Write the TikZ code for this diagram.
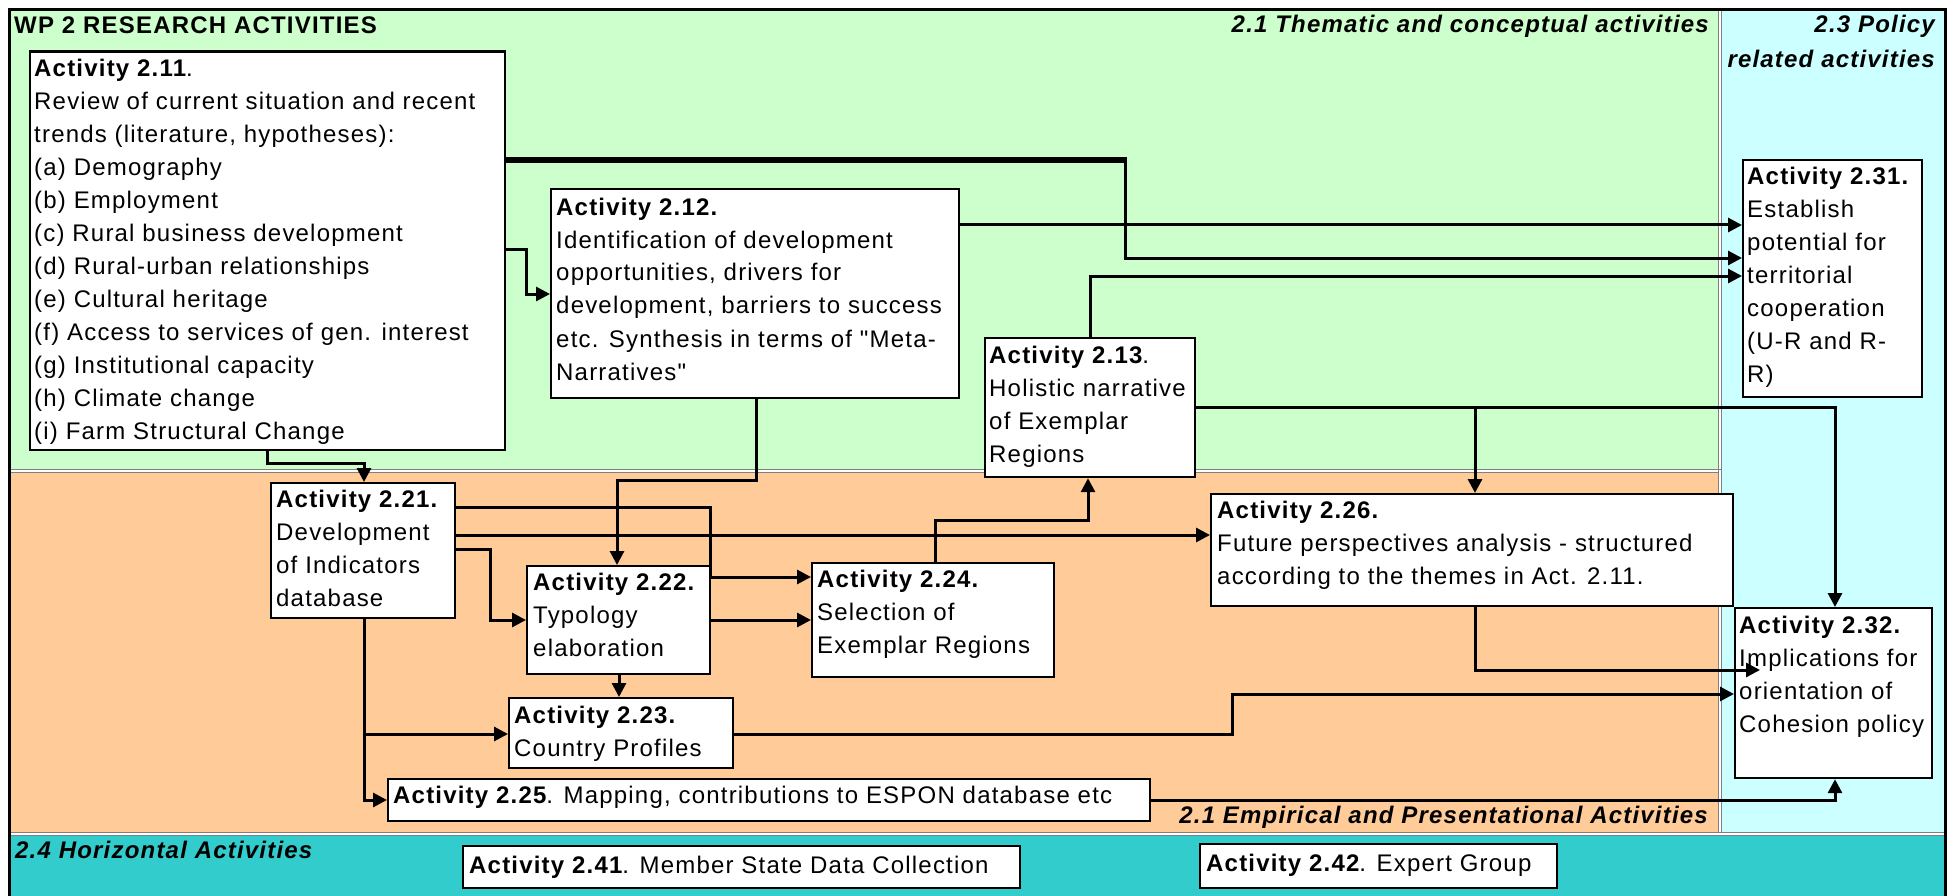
\documentclass[tikz,border=0pt]{standalone}
\usepackage{fontspec}
\setmainfont{Liberation Sans}[LetterSpace=5, Ligatures=TeXOff]
\usetikzlibrary{arrows.meta}
\definecolor{greenbg}{HTML}{CCFFCC}
\definecolor{orangebg}{HTML}{FFCC99}
\definecolor{cyanbg}{HTML}{CCFFFF}
\definecolor{tealbg}{HTML}{33CCCC}
\definecolor{sepgray}{HTML}{808080}
\newcommand{\ml}[1]{\begin{tabular}[t]{@{}l@{}}#1\end{tabular}}
\begin{document}
\begin{tikzpicture}[x=1pt,y=-1pt,
  box/.style={draw=black, fill=white, line width=2.2pt, inner sep=0pt, anchor=north west},
  txt/.style={inner sep=0pt, anchor=base west, font=\fontsize{24}{33}\selectfont},
  ttl/.style={inner sep=0pt, font=\fontsize{24}{33}\selectfont\bfseries\itshape},
  ttlb/.style={inner sep=0pt, font=\fontsize{24}{33}\selectfont\bfseries},
  conn/.style={draw=black, line width=3pt},
  arr/.style={conn, -{Triangle[length=14pt,width=14pt]}},
  sep/.style={draw=sepgray, line width=1pt}]
\useasboundingbox (0,0) rectangle (1957,896);
\clip (0,0) rectangle (1957,896);
\fill[white] (0,0) rectangle (1957,896);
% regions
\fill[greenbg] (11.25,11.25) rectangle (1718,469);
\fill[orangebg] (11.25,472.5) rectangle (1718,832);
\fill[cyanbg] (1721,11.25) rectangle (1943.75,832);
\fill[tealbg] (11.25,836) rectangle (1943.75,896);
\draw[sep] (11,469.5) -- (1721,469.5);
\draw[sep] (11,472) -- (1718,472);
\draw[sep] (1718,11) -- (1718,833);
\draw[sep] (1721,11) -- (1721,833);
\draw[sep] (11,832.5) -- (1944,832.5);
\draw[sep] (11,835.5) -- (1944,835.5);
\draw[line width=3.5pt] (9.5,9.5) rectangle (1945.5,910);
% titles
\node[ttlb, anchor=base west] (twp) at (14,34) {WP 2 RESEARCH ACTIVITIES};
\node[ttl, anchor=base east] (t21a) at (1709,33) {2.1 Thematic and conceptual activities};
\node[ttl, anchor=base east] (t23a) at (1935,33) {2.3 Policy};
\node[ttl, anchor=base east] (t23b) at (1935,68) {related activities};
\node[ttl, anchor=base west] (t24) at (15,858) {2.4 Horizontal Activities};
\node[ttl, anchor=base east] (t21b) at (1708,823) {2.1 Empirical and Presentational Activities};
% boxes
\node[box, minimum width=475pt, minimum height=398.5pt] (a211) at (28.5,50.5) {};
\node[txt] (a211t) at (34,77) {\ml{\textbf{Activity 2.11}.\\Review of current situation and recent\\trends (literature, hypotheses):\\(a) Demography\\(b) Employment\\(c) Rural business development\\(d) Rural-urban relationships\\(e) Cultural heritage\\(f) Access to services of gen. interest\\(g) Institutional capacity\\(h) Climate change\\(i) Farm Structural Change}};
\node[box, minimum width=408pt, minimum height=209pt] (a212) at (550,188) {};
\node[txt] (a212t) at (556,215) {\ml{\textbf{Activity 2.12.}\\Identification of development\\opportunities, drivers for\\development, barriers to success\\etc. Synthesis in terms of "Meta-\\Narratives"}};
\node[box, minimum width=210pt, minimum height=139pt] (a213) at (984,337) {};
\node[txt] (a213t) at (989,363) {\ml{\textbf{Activity 2.13}.\\Holistic narrative\\of Exemplar\\Regions}};
\node[box, minimum width=184pt, minimum height=135pt] (a221) at (270,482) {};
\node[txt] (a221t) at (276,507) {\ml{\textbf{Activity 2.21.}\\Development\\of Indicators\\database}};
\node[box, minimum width=183pt, minimum height=108pt] (a222) at (526,565) {};
\node[txt] (a222t) at (533,590) {\ml{\textbf{Activity 2.22.}\\Typology\\elaboration}};
\node[box, minimum width=224pt, minimum height=70pt] (a223) at (508,697) {};
\node[txt] (a223t) at (514,723) {\ml{\textbf{Activity 2.23.}\\Country Profiles}};
\node[box, minimum width=242pt, minimum height=114pt] (a224) at (811,562) {};
\node[txt] (a224t) at (817,587) {\ml{\textbf{Activity 2.24.}\\Selection of\\Exemplar Regions}};
\node[box, minimum width=762pt, minimum height=42pt] (a225) at (387,778) {};
\node[txt] (a225t) at (393,803) {\textbf{Activity 2.25}. Mapping, contributions to ESPON database etc};
\node[box, minimum width=522pt, minimum height=112pt] (a226) at (1210,493) {};
\node[txt] (a226t) at (1217,518) {\ml{\textbf{Activity 2.26.}\\Future perspectives analysis - structured\\according to the themes in Act. 2.11.}};
\node[box, minimum width=179pt, minimum height=237pt] (a231) at (1742,159) {};
\node[txt] (a231t) at (1747,185) {\ml{\textbf{Activity 2.31.}\\Establish\\potential for\\territorial\\cooperation\\(U-R and R-\\R)}};
\node[box, minimum width=197pt, minimum height=170pt] (a232) at (1734,607) {};
\node[txt] (a232t) at (1739,633) {\ml{\textbf{Activity 2.32.}\\Implications for\\orientation of\\Cohesion policy}};
\node[box, minimum width=557pt, minimum height=42pt] (a241) at (462,845) {};
\node[txt] (a241t) at (469,873) {\textbf{Activity 2.41}. Member State Data Collection};
\node[box, minimum width=357pt, minimum height=44pt] (a242) at (1199,843) {};
\node[txt] (a242t) at (1206,871) {\textbf{Activity 2.42}. Expert Group};
% connectors
\coordinate (k1) at (1125,160);
\draw[conn, line width=5.5pt] (a211.east |- k1) -- ([xshift=1.5pt]k1);
\draw[arr] (k1) -- (1125,258) -- (a231.west |- 0,258);
\draw[arr] (a212.east |- 0,225) -- (a231.west |- 0,225);
\draw[arr] (a213.north -| 1090,0) -- (1090,276) -- (a231.west |- 0,276);
\draw[arr] (a211.east |- 0,249) -- (526,249) -- (526,294) -- (a212.west |- 0,294);
\draw[arr] (a211.south -| 267,0) -- (267,463) -- (364,463) -- (a221.north -| 364,0);
\draw[arr] (a212.south -| 756,0) -- (756,480) -- (617,480) -- (a222.north -| 617,0);
\draw[arr] (a221.east |- 0,507) -- (710,507) -- (710,577) -- (a224.west |- 0,577);
\draw[arr] (a221.east |- 0,535) -- (a226.west |- 0,535);
\draw[arr] (a221.east |- 0,549) -- (490,549) -- (490,620) -- (a222.west |- 0,620);
\draw[arr] (a222.east |- 0,620) -- (a224.west |- 0,620);
\draw[arr] (a222.south -| 619,0) -- (a223.north -| 619,0);
\draw[arr] (a221.south -| 364,0) -- (364,734) -- (a223.west |- 0,734);
\draw[arr] (a221.south -| 364,0) -- (364,800) -- (a225.west |- 0,800);
\draw[arr] (a224.north -| 935,0) -- (935,520) -- (1088,520) -- (a213.south -| 1088,0);
\draw[arr] (a213.east |- 0,407) -- (1475,407) -- (a226.north -| 1475,0);
\draw[arr] (a213.east |- 0,407) -- (1835,407) -- (a232.north -| 1835,0);
\coordinate (p232) at (1760,670);
\draw[arr] (a226.south -| 1475,0) -- (1475,670) -- (p232);
\draw[arr] (a223.east |- 0,734) -- (1232,734) -- (1232,694) -- (a232.west |- 0,694);
\draw[arr] (a225.east |- 0,800) -- (1835,800) -- (a232.south -| 1835,0);
\end{tikzpicture}
\end{document}
